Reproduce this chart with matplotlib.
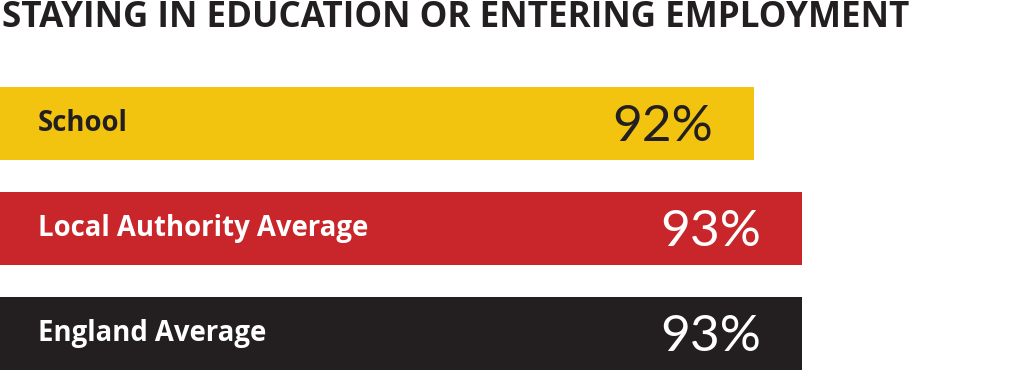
import matplotlib.pyplot as plt

categories = ["School", "Local Authority Average", "England Average"]
values = [92, 93, 93]
value_labels = ["92%", "93%", "93%"]
bar_colors = ["#F2C30F", "#C8262A", "#231F20"]
name_colors = ["#231F20", "white", "white"]
pct_colors = ["#231F20", "white", "white"]

W, H = 1024, 373
fig = plt.figure(figsize=(W / 100, H / 100), dpi=100)
ax = fig.add_axes([0, 0, 1, 1])

# pixel mapping: value 92 -> x=754, value 93 -> x=802
px_per_unit = 48.0
x0 = 92 - 754 / px_per_unit
ax.set_xlim(x0, x0 + W / px_per_unit)
row_gap = 105.0
ax.set_ylim((H - 123.5) / row_gap, -123.5 / row_gap)

ypos = list(range(len(categories)))
ax.barh(ypos, values, height=73 / row_gap, color=bar_colors, left=0)

for i in ypos:
    ax.text(x0 + 38 / px_per_unit, i, categories[i], color=name_colors[i],
            fontsize=19.8, fontweight="bold", family="Open Sans",
            va="center", ha="left")
    ax.text(values[i] - 41 / px_per_unit, i + 0.03, value_labels[i], color=pct_colors[i],
            fontsize=37, fontweight="normal", family="Lato",
            va="center", ha="right")

ax.axis("off")

fig.text(2 / W, 1 - 27 / H, "STAYING IN EDUCATION OR ENTERING EMPLOYMENT",
         color="#231F20", fontsize=25.2, fontweight="bold", family="Open Sans",
         ha="left", va="baseline")

fig.savefig("out.png", dpi=100)
